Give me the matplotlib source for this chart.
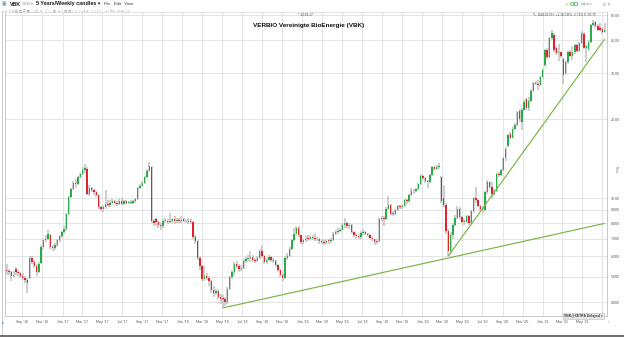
import matplotlib
matplotlib.use('Agg')
import matplotlib.pyplot as plt
import matplotlib.dates as mdates
import matplotlib.ticker as mticker
import numpy as np
import pandas as pd

# ---------------- data (weekly candles, VBK) ----------------
start_date = '2016-07-15'

opens = [5.3, 5.25, 5.2, 5.05, 5.35, 5.2, 5.15, 5.05, 4.95, 4.85,
         4.95, 5.9, 5.7, 5.5, 5.2, 5.65, 6.5, 6.9, 7.0, 7.2,
         6.5, 6.45, 6.6, 6.9, 7.15, 7.4, 7.6, 8.7, 10.1, 10.8,
         11.4, 11.3, 12.0, 12.3, 12.8, 12.9, 10.4, 10.9, 10.7, 10.5,
         10.3, 9.2, 9.1, 9.2, 9.5, 9.4, 9.6, 9.7, 9.6, 9.5,
         9.7, 9.5, 9.7, 9.6, 9.6, 9.6, 9.7, 9.9, 10.9, 11.1,
         11.4, 12.0, 12.7, 13.1, 8.2, 8.3, 8.1, 7.9, 7.8, 8.2,
         8.2, 8.1, 8.2, 8.3, 8.2, 8.25, 8.2, 8.3, 8.2, 8.2,
         8.2, 8.1, 7.1, 6.85, 5.9, 5.5, 4.9, 5.05, 4.95, 4.8,
         4.45, 4.35, 4.4, 4.2, 4.15, 4.1, 4.0, 4.5, 5.0, 5.2,
         5.6, 5.5, 5.35, 5.4, 5.75, 5.85, 5.9, 5.95, 5.8, 5.75,
         5.9, 6.3, 6.0, 5.7, 5.8, 5.95, 5.8, 5.75, 5.55, 5.3,
         5.1, 4.95, 5.9, 6.0, 6.4, 6.9, 7.3, 7.7, 7.2, 6.8,
         6.9, 7.05, 7.0, 7.1, 7.05, 7.0, 6.95, 6.85, 6.8, 6.75,
         6.9, 6.85, 6.9, 7.3, 7.4, 7.5, 7.55, 7.9, 8.0, 7.8,
         7.9, 7.4, 7.2, 7.15, 7.1, 7.35, 7.4, 7.3, 7.2, 7.05,
         6.95, 6.8, 6.85, 8.3, 8.35, 8.3, 9.1, 9.4, 8.7, 8.7,
         9.0, 9.3, 9.2, 9.3, 9.8, 9.7, 10.3, 10.6, 10.6, 10.8,
         11.3, 12.1, 11.9, 11.6, 11.5, 12.2, 13.1, 12.9, 13.1, 12.0,
         10.0, 9.4, 7.5, 6.3, 7.2, 7.9, 8.4, 9.1, 8.45, 8.1,
         8.1, 8.5, 8.0, 8.9, 10.0, 9.8, 9.3, 9.1, 9.0, 10.5,
         11.5, 11.0, 10.4, 10.6, 12.4, 12.2, 12.8, 14.2, 15.8, 17.6,
         17.0, 18.4, 19.0, 21.6, 19.6, 21.7, 23.8, 22.0, 23.5, 25.7,
         27.5, 27.3, 27.0, 29.0, 32.2, 36.8, 34.5, 40.8, 42.0, 37.4,
         35.8, 36.0, 34.0, 30.0, 33.0, 36.2, 35.0, 36.0, 38.4, 36.5,
         39.0, 42.5, 37.4, 37.0, 39.5, 45.8, 47.0, 45.5, 44.5, 44.3,
         43.2]

highs = [5.6, 5.35, 5.25, 5.25, 5.45, 5.3, 5.2, 5.15, 5.05, 4.95,
         6.0, 6.0, 5.8, 5.6, 5.7, 6.6, 7.0, 7.2, 7.55, 7.3,
         6.6, 6.75, 7.0, 7.25, 7.5, 7.8, 8.8, 10.2, 10.9, 11.6,
         11.8, 12.1, 12.5, 13.1, 13.5, 13.1, 11.2, 11.0, 10.8, 10.6,
         10.4, 9.3, 9.4, 10.7, 9.8, 9.8, 9.9, 9.8, 9.7, 9.9,
         10.0, 9.85, 9.8, 9.75, 9.8, 9.8, 10.0, 11.0, 11.3, 11.6,
         12.1, 12.9, 13.7, 13.3, 8.3, 8.4, 8.2, 8.0, 8.3, 8.4,
         8.3, 8.8, 8.4, 8.5, 8.35, 8.4, 8.55, 8.4, 8.3, 8.35,
         8.3, 8.2, 7.2, 6.9, 6.0, 5.55, 5.5, 5.15, 5.05, 4.85,
         4.6, 4.5, 4.45, 4.3, 4.25, 4.2, 4.55, 5.05, 5.3, 5.7,
         5.75, 5.6, 5.55, 5.85, 5.95, 6.05, 6.3, 6.05, 5.9, 6.0,
         6.4, 6.6, 6.05, 5.9, 6.05, 6.0, 5.9, 5.8, 5.6, 5.35,
         5.15, 6.0, 6.15, 6.5, 7.0, 7.7, 7.8, 7.8, 7.25, 7.0,
         7.15, 7.2, 7.25, 7.2, 7.35, 7.1, 7.05, 6.95, 6.9, 7.0,
         7.0, 7.05, 7.4, 7.55, 7.65, 7.7, 8.0, 8.4, 8.1, 8.0,
         7.95, 7.5, 7.35, 7.3, 7.45, 7.6, 7.5, 7.35, 7.3, 7.1,
         7.0, 6.95, 8.4, 8.5, 8.5, 9.2, 10.2, 9.5, 8.9, 9.1,
         9.4, 9.4, 9.45, 9.9, 9.95, 10.4, 10.9, 10.8, 10.95, 11.45,
         12.3, 12.2, 12.0, 11.7, 12.3, 13.2, 13.2, 13.4, 13.6, 12.1,
         11.2, 9.6, 7.6, 7.4, 8.0, 8.6, 9.3, 9.2, 8.55, 8.3,
         8.6, 8.6, 9.0, 10.1, 11.0, 9.9, 9.4, 9.3, 10.6, 11.7,
         11.6, 11.5, 10.8, 12.5, 12.6, 12.9, 14.4, 15.6, 17.6, 17.9,
         18.6, 19.3, 21.6, 21.9, 22.0, 23.6, 24.2, 24.4, 26.0, 27.8,
         28.0, 28.2, 29.3, 31.2, 37.2, 37.4, 41.3, 44.0, 42.6, 38.0,
         38.8, 36.3, 34.4, 33.5, 36.5, 36.8, 38.0, 38.9, 38.8, 39.5,
         43.3, 43.0, 38.6, 40.0, 46.3, 47.8, 47.4, 46.2, 46.5, 45.0,
         46.5]

lows = [5.1, 5.1, 4.8, 4.95, 5.1, 5.05, 4.95, 4.85, 4.75, 4.35,
        4.9, 5.6, 5.4, 5.05, 5.15, 5.6, 6.4, 6.8, 6.9, 6.4,
        6.3, 6.35, 6.5, 6.8, 7.05, 7.3, 7.5, 8.6, 10.0, 10.7,
        10.9, 11.2, 11.9, 12.2, 12.5, 10.3, 10.2, 10.5, 10.3, 10.1,
        9.1, 8.9, 8.85, 9.1, 9.2, 9.2, 9.5, 9.45, 9.35, 9.4,
        9.4, 9.4, 9.45, 9.45, 9.5, 9.5, 9.6, 9.8, 10.8, 11.0,
        11.3, 11.9, 12.6, 8.0, 7.8, 7.8, 7.7, 7.55, 7.7, 8.0,
        7.95, 8.0, 8.05, 7.95, 8.05, 8.05, 8.05, 8.1, 8.0, 7.95,
        7.95, 7.0, 6.7, 5.8, 5.3, 4.8, 4.8, 4.85, 4.6, 4.35,
        4.2, 4.25, 4.1, 3.95, 3.8, 3.85, 3.95, 4.45, 4.9, 5.1,
        5.4, 5.2, 5.25, 5.35, 5.65, 5.75, 5.7, 5.7, 5.65, 5.7,
        5.85, 5.9, 5.6, 5.6, 5.75, 5.7, 5.65, 5.45, 5.2, 5.0,
        4.8, 4.9, 5.8, 5.95, 6.35, 6.8, 7.2, 7.1, 6.65, 6.7,
        6.8, 6.85, 6.9, 6.9, 6.85, 6.85, 6.7, 6.65, 6.6, 6.65,
        6.7, 6.75, 6.85, 7.2, 7.3, 7.4, 7.5, 7.7, 7.7, 7.6,
        7.3, 7.1, 7.0, 6.95, 7.0, 7.25, 7.2, 7.1, 6.95, 6.85,
        6.6, 6.7, 6.8, 8.15, 7.8, 8.25, 9.0, 8.6, 8.5, 8.6,
        8.9, 9.1, 9.1, 9.2, 9.5, 9.6, 10.2, 10.4, 10.5, 10.7,
        11.2, 11.7, 11.4, 10.9, 11.4, 12.1, 12.7, 12.8, 12.9, 9.6,
        9.2, 7.3, 6.0, 6.1, 7.0, 7.8, 8.3, 8.3, 8.0, 7.9,
        8.0, 7.9, 7.95, 8.8, 9.6, 9.2, 8.9, 8.8, 8.9, 10.4,
        10.8, 10.0, 10.2, 10.5, 12.0, 12.1, 12.7, 13.8, 15.6, 16.8,
        16.9, 18.2, 18.9, 19.6, 18.2, 21.5, 21.7, 21.6, 23.3, 25.5,
        27.0, 25.8, 26.8, 28.8, 31.8, 34.0, 34.2, 40.0, 36.0, 35.2,
        33.5, 34.2, 27.3, 29.5, 32.6, 34.5, 33.8, 35.6, 36.0, 36.0,
        38.7, 37.0, 33.0, 36.5, 39.0, 45.3, 44.8, 43.5, 43.3, 42.5,
        42.8]

closes = [5.25, 5.2, 5.05, 5.1, 5.2, 5.15, 5.05, 4.95, 4.85, 4.75,
          5.9, 5.7, 5.5, 5.2, 5.6, 6.5, 6.9, 7.0, 7.3, 6.5,
          6.45, 6.6, 6.9, 7.15, 7.4, 7.6, 8.7, 10.1, 10.8, 11.4,
          11.3, 12.0, 12.3, 12.8, 13.0, 10.4, 10.9, 10.7, 10.5, 10.3,
          9.2, 9.1, 9.2, 9.5, 9.4, 9.6, 9.7, 9.6, 9.5, 9.7,
          9.5, 9.7, 9.6, 9.6, 9.6, 9.7, 9.9, 10.9, 11.1, 11.4,
          12.0, 12.7, 13.2, 8.2, 8.0, 8.1, 7.9, 7.8, 8.2, 8.2,
          8.1, 8.2, 8.3, 8.2, 8.2, 8.2, 8.2, 8.2, 8.15, 8.1,
          8.1, 7.1, 6.85, 5.9, 5.5, 4.9, 5.05, 4.95, 4.8, 4.45,
          4.35, 4.4, 4.2, 4.1, 4.1, 4.0, 4.5, 5.0, 5.2, 5.6,
          5.5, 5.35, 5.4, 5.75, 5.85, 5.9, 5.9, 5.8, 5.75, 5.9,
          6.3, 6.0, 5.7, 5.8, 5.95, 5.8, 5.75, 5.55, 5.3, 5.1,
          4.95, 5.9, 6.0, 6.4, 6.9, 7.3, 7.7, 7.2, 6.8, 6.9,
          7.0, 7.0, 7.1, 7.05, 7.0, 6.95, 6.85, 6.8, 6.75, 6.85,
          6.85, 6.9, 7.3, 7.4, 7.5, 7.55, 7.9, 8.0, 7.8, 7.9,
          7.4, 7.2, 7.15, 7.1, 7.35, 7.4, 7.3, 7.2, 7.05, 6.95,
          6.8, 6.85, 8.3, 8.3, 8.3, 9.1, 9.4, 8.7, 8.7, 9.0,
          9.3, 9.2, 9.3, 9.8, 9.7, 10.3, 10.6, 10.6, 10.8, 11.3,
          12.1, 11.9, 11.6, 11.5, 12.2, 13.1, 12.9, 13.1, 13.3, 9.7,
          9.4, 7.5, 6.3, 7.2, 7.9, 8.4, 9.1, 8.45, 8.1, 8.1,
          8.5, 8.0, 8.9, 10.0, 9.8, 9.3, 9.1, 9.0, 10.5, 11.5,
          11.0, 10.4, 10.6, 12.4, 12.2, 12.8, 14.2, 15.4, 17.4, 17.0,
          18.4, 19.0, 21.4, 20.0, 21.7, 23.3, 22.0, 23.5, 25.7, 27.5,
          27.3, 27.0, 29.0, 30.8, 36.8, 34.5, 40.8, 42.7, 36.8, 35.8,
          36.0, 34.8, 29.5, 33.0, 36.0, 35.0, 36.0, 38.4, 36.5, 39.0,
          42.7, 37.4, 38.0, 39.5, 45.8, 46.8, 45.5, 44.0, 44.0, 43.2,
          44.0]

# trend lines (date, price)
trend1_dates = ['2018-05-04', '2021-07-09']
trend1_vals = [3.8, 8.0]
trend2_dates = ['2020-03-20', '2021-07-09']
trend2_vals = [6.0, 40.5]

y_ticks = [4, 5, 6, 7, 8, 9, 10, 20, 30, 40, 50]
y_tick_labels = ['4.000', '5.000', '6.000', '7.000', '8.000', '9.000',
                 '10.00', '20.00', '30.00', '40.00', '50.00']
last_x_label = '2021-05-31'

title = 'VERBIO Vereinigte BioEnergie (VBK)'

# ---------------- drawing ----------------
FAM = ['Liberation Sans', 'DejaVu Sans']
plt.rcParams['font.family'] = FAM

W, H = 624, 337
fig = plt.figure(figsize=(W / 100, H / 100), dpi=100)
fig.patch.set_facecolor('white')

def fx(px):
    return px / W

def fy(py):
    return 1 - py / H

ax = fig.add_axes([fx(5), fy(316), fx(607) - fx(5), fy(12) - fy(316)])
ax.set_facecolor('white')
ax.set_yscale('log')

dates = pd.date_range(start_date, periods=len(closes), freq='7D')
x = mdates.date2num(dates)
o = np.array(opens); h = np.array(highs); l = np.array(lows); c = np.array(closes)
up = c >= o
body_col = np.where(up, '#27ad45', '#e4222a')

ax.vlines(x, l, h, color='#c4c4c4', lw=1.15, zorder=2)
body_low = np.minimum(o, c)
body_h = np.maximum(np.abs(c - o), c * 0.006)
ax.bar(x, body_h, bottom=body_low, width=4.3, color=body_col, lw=0, zorder=3)

for d, v in ((trend1_dates, trend1_vals), (trend2_dates, trend2_vals)):
    ax.plot(mdates.date2num(pd.to_datetime(d)), v, color='#7ab646', lw=0.85, zorder=4,
            solid_capstyle='butt')

ax.set_ylim(3.54, 51.4)
ax.set_xlim(mdates.date2num(pd.Timestamp('2016-07-10')), mdates.date2num(pd.Timestamp('2021-07-16')))

ax.yaxis.tick_right()
ax.set_yticks(y_ticks)
ax.set_yticklabels(y_tick_labels)
ax.yaxis.set_minor_locator(mticker.NullLocator())
ax.xaxis.set_major_locator(mdates.MonthLocator(bymonth=[1, 3, 5, 7, 9, 11]))
limit_num = mdates.date2num(pd.Timestamp(last_x_label))

def xfmt(v, pos=None):
    if v > limit_num:
        return ''
    return mdates.num2date(v).strftime("%b '%y")

ax.xaxis.set_major_formatter(mticker.FuncFormatter(xfmt))
ax.tick_params(axis='both', length=0, labelsize=2.6, colors='#555555', pad=2.5)
ax.tick_params(axis='x', pad=3.2)
ax.grid(True, color='#e4e4e4', lw=0.7, zorder=0)
for s in ['left', 'right', 'bottom']:
    ax.spines[s].set_color('#c8c8c8')
    ax.spines[s].set_linewidth(0.7)
ax.spines['top'].set_color('#dddddd')
ax.spines['top'].set_linewidth(0.6)

# title & header texts
fig.text(fx(309), fy(26), title, ha='center', va='center', fontsize=4.6,
         fontweight='bold', color='#111111')
fig.text(fx(298), fy(15.5), '* 13:34:17', ha='left', va='center', fontsize=2.3,
         color='#444444')
fig.text(fx(533), fy(15.5), '*L: D44.02 CH: +1.16 CH%: 2.71% V: 50.79',
         ha='left', va='center', fontsize=2.3, color='#444444')

# toolbar
fig.text(fx(10), fy(4), 'VBK', fontsize=3.8, fontweight='bold',
         va='center', color='#1a1a1a')
fig.text(fx(22), fy(4), '3835 \u25be', fontsize=2.6,
         va='center', color='#888888')
fig.text(fx(36), fy(4), '5 Years/Weekly candles \u25be', fontsize=3.9, fontweight='bold',
         va='center', color='#1a1a1a')
fig.text(fx(104), fy(4), 'File   Edit   View', fontsize=3.0,
         va='center', color='#333333')
fig.text(fx(2), fy(4), '\u25a3', fontsize=3.4, va='center', color='#5a8fc8')
icons = '\u25cf \u2715 \u270e \u2261 \u25a4 \u25a5 \u2630 \u25a6   \u2591 \u2592  \u25bc   \u2571 \u2572   \u25c9   \u25cf \u2572 \u25a5 \u25a4 \u2571 \u2572 \u2572 \u2572 \u2261 \u2261   \u2572 \u2572 \u2572 \u2571   \u21e5 \u2195 \u2016 \u2261   \u2699 \u2699 \u2572 \u25be'
fig.text(fx(2), fy(10), icons, fontsize=2.3, va='center', color='#9a9a9a')
fig.text(fx(564), fy(4), '\u2713', fontsize=3.5, va='center', color='#5cae3a')
fig.text(fx(570), fy(4), 'OO', fontsize=4.2, fontweight='bold', va='center', color='#3cb043')
fig.text(fx(581), fy(4), 'adjust \u25be', fontsize=2.2, va='center', color='#888888')
fig.text(fx(603), fy(4), '\u2261 \u2715', fontsize=3.4, va='center', color='#999999')

# right axis name
fig.text(fx(616), fy(170), 'Price', rotation=270, fontsize=2.3, va='center', ha='center',
         color='#666666')

# symbol box
fig.text(fx(564), fy(316), 'VBK@XETRA Delayed \u25be', fontsize=2.4, fontweight='bold',
         va='center', ha='left', color='#333333',
         bbox=dict(boxstyle='square,pad=0.25', fc='#e8e8e8', ec='#bbbbbb', lw=0.4))
fig.text(fx(608), fy(322), '\u203a', fontsize=3.0, va='center', ha='center', color='#666666')

# window frame lines
fig.add_artist(plt.Line2D([0, 1], [fy(335.5), fy(335.5)], color='#555555', lw=1.2))
fig.add_artist(plt.Line2D([fx(1.5), fx(1.5)], [fy(12), fy(334)], color='#c0c0c0', lw=0.6))
fig.text(fx(3), fy(322), '\u25b8', fontsize=3.2, va='center', ha='center', color='#3b7fd0')

fig.savefig('out.png', dpi=100, facecolor='white')
